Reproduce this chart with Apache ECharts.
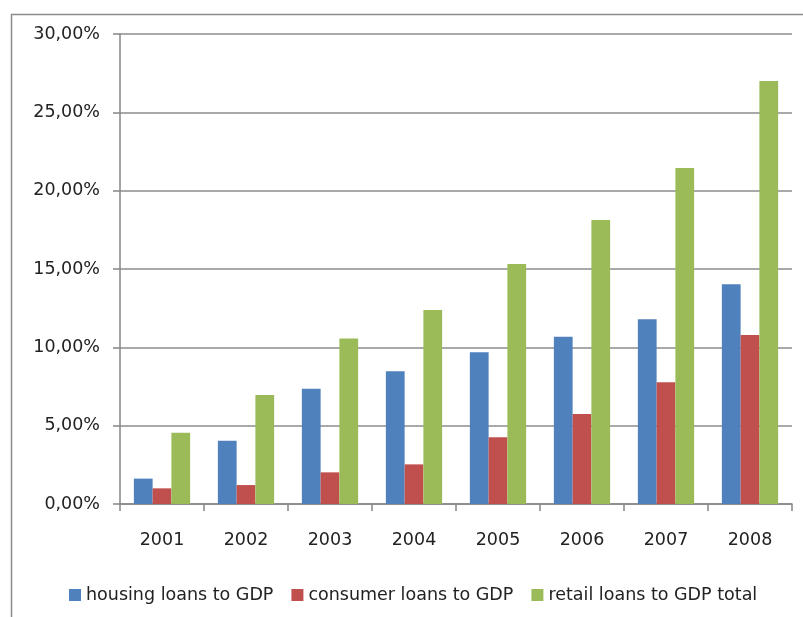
<!DOCTYPE html>
<html>
<head>
<meta charset="utf-8">
<script src="https://cdn.jsdelivr.net/npm/echarts@6/dist/echarts.min.js"></script>
<style>html,body{margin:0;padding:0;background:#fff;}#c{width:803px;height:617px;}</style>
</head>
<body>
<div id="c"></div>
<script>
const years = ['2001','2002','2003','2004','2005','2006','2007','2008'];
const housing = [1.62, 4.04, 7.36, 8.47, 9.68, 10.68, 11.79, 14.02];
const consumer = [1.00, 1.21, 2.02, 2.53, 4.26, 5.74, 7.77, 10.79];
const retail = [4.55, 6.96, 10.57, 12.38, 15.32, 18.13, 21.45, 27.00];
const seriesNames = ['housing loans to GDP', 'consumer loans to GDP', 'retail loans to GDP total'];
const colors = ['#4F81BD', '#C0504D', '#9BBB59'];

const font = "'DejaVu Sans', Verdana, sans-serif";
const fs = 17.5;
const chart = echarts.init(document.getElementById('c'), null, {renderer: 'canvas'});
const mk = (name, data, color) => ({
  name, type: 'bar', data, barGap: '0%', barCategoryGap: '33%',
  itemStyle: {color}, emphasis: {disabled: true}
});
chart.setOption({
  animation: false,
  color: colors,
  graphic: [{
    type: 'rect', left: 9, top: 12, silent: true,
    shape: {width: 820, height: 640},
    style: {fill: 'none', stroke: '#8c8c8c', lineWidth: 1.5}
  }],
  grid: {left: 120, top: 34, right: 11, bottom: 113},
  legend: {
    data: seriesNames, left: 64, top: 581, icon: 'rect',
    itemWidth: 12, itemHeight: 12, itemGap: 18,
    textStyle: {fontFamily: font, fontSize: fs, color: '#222'}
  },
  xAxis: {
    type: 'category', data: years,
    axisLine: {lineStyle: {color: '#868686', width: 1.5}},
    axisTick: {show: true, length: 7, alignWithLabel: false, lineStyle: {color: '#868686', width: 1.5}},
    axisLabel: {fontFamily: font, fontSize: fs, color: '#222', margin: 27}
  },
  yAxis: {
    type: 'value', min: 0, max: 30, interval: 5,
    axisLine: {show: true, lineStyle: {color: '#868686', width: 1.5}},
    axisTick: {show: true, length: 7, lineStyle: {color: '#868686', width: 1.5}},
    splitLine: {lineStyle: {color: '#8c8c8c', width: 1.5}},
    axisLabel: {
      fontFamily: font, fontSize: fs, color: '#222', margin: 20,
      formatter: v => v.toFixed(2).replace('.', ',') + '%'
    }
  },
  series: [
    mk(seriesNames[0], housing, colors[0]),
    mk(seriesNames[1], consumer, colors[1]),
    mk(seriesNames[2], retail, colors[2])
  ]
});
</script>
</body>
</html>
